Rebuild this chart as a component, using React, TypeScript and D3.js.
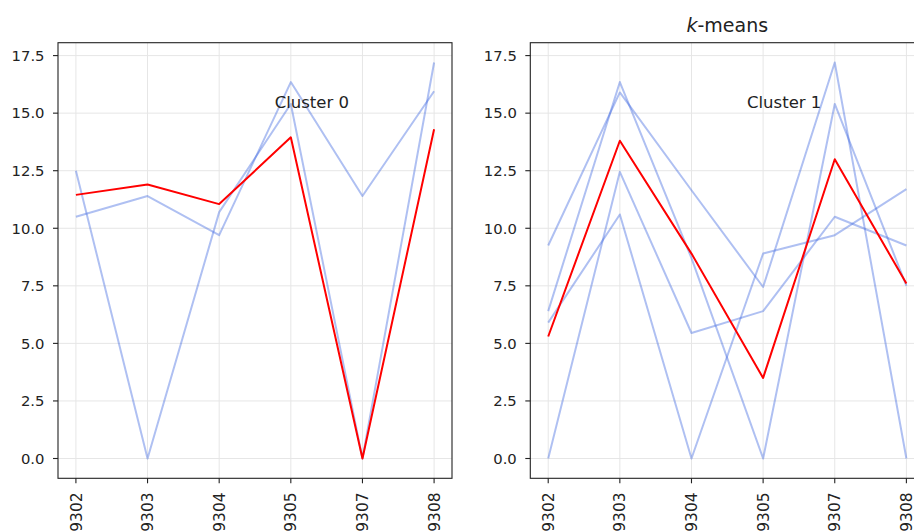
import React from 'react';
import * as d3 from 'd3';

const categories = ['199302', '199303', '199304', '199305', '199307', '199308'];
const yTickValues = [0, 2.5, 5, 7.5, 10, 12.5, 15, 17.5];

const cluster0Series = [
  [12.5, 0, 10.7, 15.4, 0, 17.2],
  [10.5, 11.4, 9.7, 16.35, 11.4, 15.95],
];
const cluster0Center = [11.45, 11.9, 11.05, 13.95, 0, 14.3];

const cluster1Series = [
  [9.25, 15.9, 11.65, 7.45, 17.2, 0],
  [6.4, 16.35, 8.7, 0, 15.4, 7.5],
  [0, 12.45, 5.45, 6.4, 10.5, 9.25],
  [5.9, 10.6, 0, 8.9, 9.7, 11.7],
];
const cluster1Center = [5.3, 13.8, 8.9, 3.5, 13.0, 7.6];

const clusterLabels = ['Cluster 0', 'Cluster 1'];
const titleItalic = 'k';
const titleRest = '-means';

const W = 914;
const H = 532;
const TOP = 42.7;
const BOTTOM = 478.3;
const PANEL_W = 394;
const PANEL_LEFTS = [58, 530.3];
const FONT = "'DejaVu Sans', 'Liberation Sans', sans-serif";

type PanelProps = {
  left: number;
  series: number[][];
  center: number[];
  label: string;
  y: d3.ScaleLinear<number, number>;
};

function Panel({ left, series, center, label, y }: PanelProps) {
  const right = left + PANEL_W;
  const x = d3.scalePoint<string>().domain(categories).range([left, right]).padding(0.25);
  const line = d3
    .line<number>()
    .x((_, i) => x(categories[i]) as number)
    .y((d) => y(d));
  const clipId = `clip-${Math.round(left)}`;
  return (
    <g>
      <defs>
        <clipPath id={clipId}>
          <rect x={left} y={TOP} width={PANEL_W} height={BOTTOM - TOP} />
        </clipPath>
      </defs>
      <rect x={left} y={TOP} width={PANEL_W} height={BOTTOM - TOP} fill="#fff" />
      <g clipPath={`url(#${clipId})`}>
        {yTickValues.map((t) => (
          <line key={'gy' + t} x1={left} x2={right} y1={y(t)} y2={y(t)} stroke="#e6e6e6" strokeWidth={1} />
        ))}
        {categories.map((c) => (
          <line key={'gx' + c} x1={x(c)} x2={x(c)} y1={TOP} y2={BOTTOM} stroke="#e6e6e6" strokeWidth={1} />
        ))}
        {series.map((s, i) => (
          <path key={'s' + i} d={line(s) || ''} fill="none" stroke="#4169e1" strokeOpacity={0.42} strokeWidth={2} strokeLinejoin="round" />
        ))}
        <path d={line(center) || ''} fill="none" stroke="#ff0000" strokeWidth={2} strokeLinejoin="round" />
      </g>
      <text
        x={left + 0.55 * PANEL_W}
        y={BOTTOM - 0.85 * (BOTTOM - TOP)}
        fontFamily={FONT}
        fontSize={16.5}
        fill="#222"
      >
        {label}
      </text>
      <rect x={left} y={TOP} width={PANEL_W} height={BOTTOM - TOP} fill="none" stroke="#222" strokeWidth={1.1} />
      {yTickValues.map((t) => (
        <g key={'yt' + t}>
          <line x1={left - 5} x2={left} y1={y(t)} y2={y(t)} stroke="#222" strokeWidth={1.1} />
          <text x={left - 13.5} y={y(t)} dy="0.36em" textAnchor="end" fontFamily={FONT} fontSize={14.8} fill="#222">
            {t.toFixed(1)}
          </text>
        </g>
      ))}
      {categories.map((c) => (
        <g key={'xt' + c}>
          <line x1={x(c)} x2={x(c)} y1={BOTTOM} y2={BOTTOM + 5} stroke="#222" strokeWidth={1.1} />
          <text
            transform={`translate(${x(c)},${BOTTOM + 14}) rotate(-90)`}
            dy="0.36em"
            textAnchor="end"
            fontFamily={FONT}
            fontSize={15.5}
            fill="#222"
          >
            {c}
          </text>
        </g>
      ))}
    </g>
  );
}

export default function App() {
  const all = [...cluster0Series.flat(), ...cluster0Center, ...cluster1Series.flat(), ...cluster1Center];
  const minV = d3.min(all) as number;
  const maxV = d3.max(all) as number;
  const pad = (maxV - minV) * 0.05;
  const y = d3.scaleLinear().domain([minV - pad, maxV + pad]).range([BOTTOM, TOP]);

  return (
    <svg
      width={W}
      height={H}
      style={{ position: 'absolute', left: 0, top: 0, background: '#fff' }}
    >
      <rect x={0} y={0} width={W} height={H} fill="#fff" />
      <Panel left={PANEL_LEFTS[0]} series={cluster0Series} center={cluster0Center} label={clusterLabels[0]} y={y} />
      <Panel left={PANEL_LEFTS[1]} series={cluster1Series} center={cluster1Center} label={clusterLabels[1]} y={y} />
      <text
        x={PANEL_LEFTS[1] + PANEL_W / 2}
        y={32}
        textAnchor="middle"
        fontFamily={FONT}
        fontSize={19}
        fill="#222"
      >
        <tspan fontStyle="italic">{titleItalic}</tspan>
        <tspan>{titleRest}</tspan>
      </text>
    </svg>
  );
}
